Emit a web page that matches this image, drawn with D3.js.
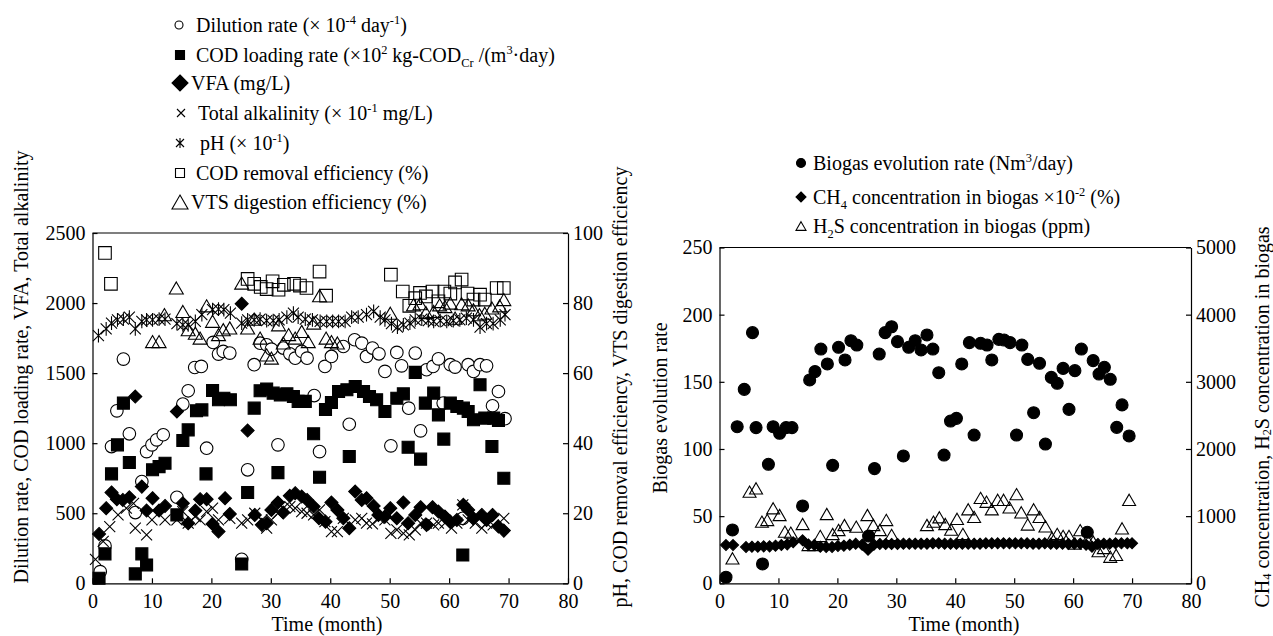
<!DOCTYPE html>
<html><head><meta charset="utf-8">
<script src="https://cdn.jsdelivr.net/npm/d3@7"></script>
<style>
body{margin:0;background:#fff}
svg{display:block}
svg text{font-family:'Liberation Serif','DejaVu Serif',serif;fill:#000}
</style>
</head><body>
<svg id="c" width="1273" height="636"></svg>
<script>
// ---------------- DATA (month, value) ----------------
const xTicks = [0,10,20,30,40,50,60,70,80];
const leftTicksA = [0,500,1000,1500,2000,2500];
const rightTicksA = [0,20,40,60,80,100];
const leftTicksB = [0,50,100,150,200,250];
const rightTicksB = [0,1000,2000,3000,4000,5000];

const dilution = [[1.3,83],[2.1,267],[3.2,976],[4.1,1231],[5.2,1600],[6.2,1067],[7.2,505],[8.3,726],[9.1,940],[10,988],[10.8,1024],[11.9,1060],[14.2,614],[15.2,1279],[16.1,1374],[17.2,1540],[18.3,1548],[19.2,964],[20.3,1719],[21.2,1636],[22,1655],[23.1,1643],[25.1,171],[26.1,810],[27.2,1560],[28.2,1714],[29.3,1702],[30.1,1671],[31.2,988],[32.1,1679],[33.2,1638],[34.1,1607],[35.2,1655],[36.1,1607],[37.3,1340],[38.2,940],[39.1,1548],[40.2,1619],[42.2,1690],[43.2,1135],[44.1,1738],[45.3,1714],[46.1,1619],[47.1,1679],[48.2,1638],[49.2,1512],[50.2,981],[51.2,1648],[52,1552],[53.2,1250],[54.3,1643],[55.2,1088],[56.2,1524],[57.3,1548],[58.2,1602],[59,1286],[60.2,1560],[61,1543],[62.3,464],[63.2,1560],[64.1,1512],[65.2,1560],[66.3,1552],[67.3,1267],[68.3,1369],[69.4,1175]];
const codLoading = [[1.1,36],[2.1,210],[3.2,781],[4.2,988],[5.2,1286],[6.2,862],[7.2,67],[8.3,210],[9.1,131],[10.1,810],[11.2,833],[12.2,857],[14.2,488],[15.2,1019],[16.1,1095],[17.5,1231],[18.4,1238],[19.1,781],[20.2,1376],[21.2,1310],[22.1,1321],[23.2,1310],[25.1,138],[26.1,648],[27.2,1250],[28.2,1374],[29.3,1386],[30.4,1357],[31.2,790],[31.6,1345],[32.7,1352],[33.8,1333],[34.6,1298],[35.8,1298],[37.2,1067],[38.2,757],[39.2,1240],[40.2,1290],[41.4,1369],[42.8,1381],[43.2,905],[44.2,1405],[45.6,1369],[46.6,1333],[47.8,1310],[49.2,1226],[51.2,1321],[52.3,1352],[53.1,971],[54.3,1505],[55.2,886],[56,1286],[57.4,1357],[58.2,1202],[59.1,1029],[60.2,1286],[61.3,1262],[62.3,202],[62.4,1250],[63.2,1226],[64.1,1167],[65.2,1417],[66,1179],[67.2,976],[67.5,1179],[68.3,1162],[69.2,750]];
const vfa = [[1.1,352],[2.3,536],[3.2,648],[4.1,600],[5.1,595],[6.2,614],[7.2,1333],[8.3,690],[9.1,519],[10.1,607],[11.2,519],[12.2,552],[14.2,1226],[15.2,571],[16.1,429],[17.3,519],[18.1,600],[19.2,600],[20.2,424],[21.2,369],[22.3,607],[23.1,495],[25.1,1995],[26.1,1090],[27.3,488],[28.5,417],[29.3,429],[30.1,524],[31.2,576],[32.1,505],[33.2,624],[34.1,643],[35.2,619],[36.1,595],[37.2,548],[38.1,464],[39.2,440],[40.2,576],[41.2,524],[42.2,464],[43.2,393],[44.2,655],[45.3,595],[46.1,607],[47.3,552],[48.1,488],[49.2,476],[50.1,536],[51.2,464],[52.3,576],[53.1,429],[54.3,488],[55.2,543],[56.2,417],[57.2,543],[58.2,512],[59.3,476],[60.2,440],[61.3,452],[62.4,560],[63.2,524],[64.1,464],[65.5,488],[66.3,452],[67.3,488],[68.3,405],[69.2,376]];
const alkalinity = [[0.5,170],[1.8,300],[2.9,405],[4.3,488],[5.7,536],[6.9,571],[7.2,393],[9.1,345],[10,452],[12.2,452],[14.2,452],[15.2,512],[16.1,429],[17.3,476],[18.1,452],[19.2,512],[20.2,536],[21.2,452],[23.1,464],[25.1,429],[26.1,452],[27.3,500],[28.5,452],[29.3,393],[30.1,452],[31.2,500],[32.1,536],[33.2,548],[34.1,536],[35.2,512],[36.1,500],[37.2,488],[38.2,524],[39.1,440],[40.2,369],[41.2,369],[42.2,464],[44.2,452],[45.3,464],[46.1,429],[47.1,424],[48.2,464],[49.2,452],[50.2,357],[51.2,381],[52.3,357],[53.3,345],[54.3,381],[55.2,429],[56.2,429],[57.4,417],[58.2,429],[59.3,429],[60.4,393],[61.3,429],[62.3,560],[63.2,452],[64.4,429],[65.5,393],[66.3,429],[67.4,417],[69.2,464]];
const ph = [[1,70.7],[2.3,72.6],[3.2,74.3],[4.2,75.2],[5.2,75.4],[6.2,76],[7.2,72.6],[8.3,74.8],[9.1,75.2],[10.1,75.2],[11.2,75.4],[12.2,75.4],[14.2,74.1],[15.2,73.8],[16.1,73.8],[17.3,74.8],[18.4,76.7],[20.2,78.1],[21.2,78.3],[22.1,78.1],[23.2,77.1],[25.1,74.3],[26.1,75.2],[27.2,75.2],[28.2,75.4],[29.3,75],[30.4,75],[31.4,75.2],[32.7,76],[33.8,77.1],[34.6,76],[35.8,75.4],[37,75.2],[38.3,74.8],[39.4,74.8],[40.4,74.8],[41.4,74.8],[42.5,74.8],[43.6,76],[44.7,76],[46.1,76.7],[47.3,77.6],[48.4,76],[49.2,75.2],[50.3,74.1],[51.3,73.1],[52.3,73.8],[53.4,74.3],[54.3,75.2],[55.4,75.4],[56.5,75],[57.4,74.8],[58.5,75],[59.6,74.8],[60.7,75],[61.8,75.2],[62.9,75.7],[64.1,75.2],[65.2,73.1],[66.3,74.1],[67.4,74.1],[68.6,75.2],[69.4,76.7]];
const codRemoval = [[2.1,94.3],[3.1,85.5],[26.1,86.9],[27.2,85.5],[28.3,84.6],[29.3,84],[30.3,86.2],[31.3,83.8],[32.2,85.2],[33.9,85.5],[34.9,85],[36,84.3],[38.2,89],[39.3,82.1],[50.2,88.1],[52.2,83.3],[53.3,79.2],[54.3,81.4],[55.1,82.9],[56.1,81.9],[57.2,83.3],[58.2,80.5],[59.2,83.3],[60.2,82.7],[61,85.9],[62.1,86.7],[63.1,82.7],[64.1,81],[65.2,82.4],[66,81],[68,84.3],[69.2,84.3]];
const vtsDigestion = [[10.1,69],[11.2,69],[12.1,76.7],[14.1,84.3],[15.2,77.6],[16.1,72.4],[17.3,71.4],[18.1,70],[19.2,79.2],[20.2,74.8],[21.2,71],[22,72.4],[23.1,72.9],[25.1,85.7],[26.1,72.9],[27.2,75.4],[28.2,70],[29.3,65.2],[30.1,64.3],[31.3,73.8],[32.1,68.6],[33,71],[34.1,70],[35.2,71.9],[36.3,69],[37.2,74.3],[38.2,82.1],[39.3,70],[40.2,69],[41.2,68.6],[50.1,77.1],[54,79.5],[55.1,79.8],[56.1,77.3],[57.4,77.6],[58.4,79.5],[59.3,79],[60.2,80],[61,75.7],[62.1,79.8],[63.2,79.5],[64.1,78.1],[65.1,76.7],[66,77.1],[67.2,78.6],[68.5,79.2],[69.2,81]];

const biogas = [[1.1,4.5],[2.2,39.7],[3,116.6],[4.2,144.4],[5.6,186.6],[6.2,115.9],[7.3,14.4],[8.3,88.6],[9.1,116.6],[10.2,111.7],[11.3,115.9],[12.3,115.9],[14.1,57.6],[15.3,151.4],[16.2,157.6],[17.2,174.4],[18.3,163.3],[19.2,87.8],[20.2,175.7],[21.3,166.3],[22.3,180.6],[23.3,177.4],[25.3,35.2],[26.3,85.4],[27.1,170.7],[28.1,186.6],[29.2,191],[30.2,179.9],[31.2,94.8],[32.1,175.7],[33.2,180.6],[34.2,173.7],[35.2,184.9],[36.2,174.4],[37.2,156.8],[38.1,95.5],[39.2,120.8],[40.2,122.8],[41.1,163.3],[42.4,179.2],[43.2,110.4],[44.3,178.7],[45.4,177.4],[46.2,166.3],[47.4,181.6],[48.3,181.1],[49.3,179.2],[50.4,110.4],[51.3,177.4],[52.3,166.7],[53.3,127],[54.3,163.8],[55.3,103.7],[56.3,153.3],[57.3,148.9],[58.3,160],[59.3,129.5],[60.3,158.3],[61.4,174.4],[62.4,38],[63.4,165.8],[64.4,155.8],[65.3,160.8],[66.3,151.9],[67.4,116.1],[68.3,132.8],[69.5,109.7]];
const ch4 = [[1.1,570],[2.3,570],[4.5,540],[5.5,545],[6.5,545],[7.5,550],[8.5,550],[9.5,560],[10.5,570],[11.5,580],[12.5,610],[14.1,640],[15.1,575],[16.1,570],[17.1,545],[18.1,540],[19.1,540],[20.1,555],[21.1,560],[22.1,575],[23.1,590],[24.2,575],[25.2,500],[26.2,575],[27.2,585],[28.2,585],[29.2,585],[30.2,585],[31.2,590],[32.2,590],[33.2,590],[34.2,590],[35.2,590],[36.2,595],[37.2,595],[38.2,590],[39.2,590],[40.2,590],[41.2,590],[42.2,590],[43.2,590],[44.2,590],[45.2,595],[46.2,595],[47.2,595],[48.2,595],[49.2,595],[50.2,595],[51.2,595],[52.2,595],[53.2,590],[54.2,590],[55.2,595],[56.2,590],[57.2,590],[58.2,590],[59.2,585],[60.2,590],[61.2,590],[62.2,575],[63.2,545],[64.2,585],[65.2,590],[66.2,590],[67.2,595],[68.2,595],[69.2,595],[70,595]];
const h2s = [[2.2,372],[5.1,1365],[6.2,1414],[7.2,918],[8.1,943],[9.1,1117],[10.2,1017],[11.1,769],[12.1,754],[14.1,883],[15.1,571],[16.1,571],[17.1,705],[18.2,1032],[19.2,734],[20.2,794],[21.2,868],[23.2,844],[25.1,1017],[26.1,868],[27.2,794],[28.3,943],[29.2,720],[35.2,868],[36.3,918],[37.3,983],[38.3,883],[39.3,800],[40.3,960],[41.3,735],[42.2,1102],[43.2,989],[44.3,1271],[45.3,1215],[46.2,1102],[47.2,1243],[48.2,1243],[49.2,1130],[50.4,1328],[51.2,1057],[52.3,876],[53.3,1102],[54.3,989],[55.3,848],[56.4,678],[57.3,735],[58.3,706],[59.3,706],[60.3,593],[61.2,791],[62.4,650],[63.4,622],[64.3,480],[65.2,525],[66.3,396],[67.3,424],[68.3,819],[69.5,1243]];

// ---------------- DRAWING ----------------
const svg = d3.select('#c');
const FONT = "'Liberation Serif','DejaVu Serif',serif";

const shapes = {
  circle: r => `M${r},0A${r},${r} 0 1,1 ${-r},0A${r},${r} 0 1,1 ${r},0Z`,
  square: s => `M${-s},${-s}H${s}V${s}H${-s}Z`,
  diamond: s => `M0,${-s}L${s},0L0,${s}L${-s},0Z`,
  triangle: s => { const h = s*Math.sqrt(3); return `M0,${-h/2}L${s},${h/2}L${-s},${h/2}Z`; },
  cross: s => `M${-s},${-s}L${s},${s}M${-s},${s}L${s},${-s}`,
  star: s => `M${-s},${-s}L${s},${s}M${-s},${s}L${s},${-s}M0,${-s*1.25}L0,${s*1.25}`
};

function marks(g, data, xS, yS, shape, size, fill){
  g.append('g').selectAll('path').data(data).join('path')
    .attr('transform', d => `translate(${xS(d[0])},${yS(d[1])})`)
    .attr('d', shapes[shape](size))
    .attr('fill', fill).attr('stroke', '#000').attr('stroke-width', 1.1);
}

function richText(sel, segs, fs){
  let shift = 0;
  segs.forEach(s => {
    const t = sel.append('tspan').text(s[0]);
    let target = 0;
    if (s[1] === 'sup') { target = -0.38*fs; t.attr('font-size', fs*0.62); }
    else if (s[1] === 'sub') { target = 0.25*fs; t.attr('font-size', fs*0.62); }
    t.attr('dy', target - shift);
    shift = target;
  });
}

function panel(cfg){
  const x = d3.scaleLinear().domain([0,80]).range([cfg.x0, cfg.x1]);
  const yL = d3.scaleLinear().domain([0, cfg.lMax]).range([cfg.yB, cfg.yT]);
  const yR = d3.scaleLinear().domain([0, cfg.rMax]).range([cfg.yB, cfg.yT]);
  const g = svg.append('g');
  const fmt = d3.format('d');
  const style = a => a.attr('font-size', 20).attr('font-family', FONT)
      .call(s => s.selectAll('.domain,line').attr('stroke', '#000').attr('stroke-width', 1.2));
  g.append('g').attr('transform', `translate(0,${cfg.yB})`)
    .call(d3.axisBottom(x).tickValues(xTicks).tickFormat(fmt).tickSizeInner(-5).tickSizeOuter(0).tickPadding(11)).call(style);
  g.append('g').attr('transform', `translate(${cfg.x0},0)`)
    .call(d3.axisLeft(yL).tickValues(cfg.lTicks).tickFormat(fmt).tickSizeInner(-5).tickSizeOuter(0).tickPadding(7)).call(style);
  g.append('g').attr('transform', `translate(${cfg.x1},0)`)
    .call(d3.axisRight(yR).tickValues(cfg.rTicks).tickFormat(fmt).tickSizeInner(-5).tickSizeOuter(0).tickPadding(5)).call(style);
  g.append('line').attr('x1', cfg.x0).attr('x2', cfg.x1).attr('y1', cfg.yT).attr('y2', cfg.yT)
    .attr('stroke', '#000').attr('stroke-width', 1.2);
  g.selectAll('.tick text').attr('fill', '#000');
  return {x, yL, yR, g};
}

// ---- Left panel ----
const A = panel({x0:92.5, x1:568, yT:233, yB:583.3, lMax:2500, rMax:100, lTicks:leftTicksA, rTicks:rightTicksA});
const pa = A.g.append('g');
marks(pa, dilution, A.x, A.yL, 'circle', 6.3, '#fff');
marks(pa, codLoading, A.x, A.yL, 'square', 6, '#000');
marks(pa, vfa, A.x, A.yL, 'diamond', 6.5, '#000');
marks(pa, alkalinity, A.x, A.yL, 'cross', 5.5, 'none');
marks(pa, ph, A.x, A.yR, 'star', 5.5, 'none');
marks(pa, codRemoval, A.x, A.yR, 'square', 6.3, 'none');
marks(pa, vtsDigestion, A.x, A.yR, 'triangle', 7, 'none');

// ---- Right panel ----
const B = panel({x0:719.5, x1:1191, yT:247.5, yB:583.3, lMax:250, rMax:5000, lTicks:leftTicksB, rTicks:rightTicksB});
const pb = B.g.append('g');
marks(pb, biogas, B.x, B.yL, 'circle', 6, '#000');
marks(pb, ch4, B.x, B.yR, 'diamond', 5.5, '#000');
marks(pb, h2s, B.x, B.yR, 'triangle', 6.5, 'none');

// ---- Axis titles ----
function title(x, y, rot, segs){
  const t = svg.append('text').attr('transform', `translate(${x},${y}) rotate(${rot})`)
    .attr('text-anchor', 'middle').attr('font-size', 20).attr('font-family', FONT);
  richText(t, segs, 20);
  return t;
}
title(21, 367, -90, [['Dilution rate, COD loading rate, VFA, Total alkalinity']]).attr('dominant-baseline','central');
title(620, 387, -90, [['pH, COD removal efficiency, VTS digestion efficiency']]).attr('dominant-baseline','central');
title(327, 631, 0, [['Time (month)']]);
title(660, 408, -90, [['Biogas evolution rate']]).attr('dominant-baseline','central');
title(1262, 417, -90, [['CH'],['4','sub'],[' concentration, H'],['2','sub'],['S concentration in biogas']]).attr('dominant-baseline','central');
title(964, 631, 0, [['Time (month)']]);

// ---- Legends ----
function legendItem(mx, my, shape, size, fill, tx, segs){
  svg.append('path').attr('transform', `translate(${mx},${my})`).attr('d', shapes[shape](size))
    .attr('fill', fill).attr('stroke', '#000').attr('stroke-width', 1.1);
  const t = svg.append('text').attr('x', tx).attr('y', my + 6.5).attr('font-size', 20).attr('font-family', FONT);
  richText(t, segs, 20);
}
legendItem(179, 25, 'circle', 4, '#fff', 196, [['Dilution rate (× 10'],['-4','sup'],[' day'],['-1','sup'],[')']]);
legendItem(180, 55, 'square', 4.5, '#000', 196, [['COD loading rate (×10'],['2','sup'],[' kg-COD'],['Cr','sub'],[' /(m'],['3','sup'],['·day)']]);
legendItem(180, 83, 'diamond', 8, '#000', 191, [['VFA (mg/L)']]);
legendItem(181, 113, 'cross', 4, 'none', 198, [['Total alkalinity (× 10'],['-1','sup'],[' mg/L)']]);
legendItem(180, 143, 'star', 4, 'none', 200, [['pH (× 10'],['-1','sup'],[')']]);
legendItem(180, 173, 'square', 4.5, 'none', 196, [['COD removal efficiency (%)']]);
legendItem(180, 202, 'triangle', 8, 'none', 191, [['VTS digestion efficiency (%)']]);

legendItem(801, 163, 'circle', 4.5, '#000', 813, [['Biogas evolution rate (Nm'],['3','sup'],['/day)']]);
legendItem(801, 197, 'diamond', 5, '#000', 813, [['CH'],['4','sub'],[' concentration in biogas ×10'],['-2','sup'],[' (%)']]);
legendItem(801, 226, 'triangle', 5, 'none', 813, [['H'],['2','sub'],['S concentration in biogas (ppm)']]);
</script>
</body></html>
